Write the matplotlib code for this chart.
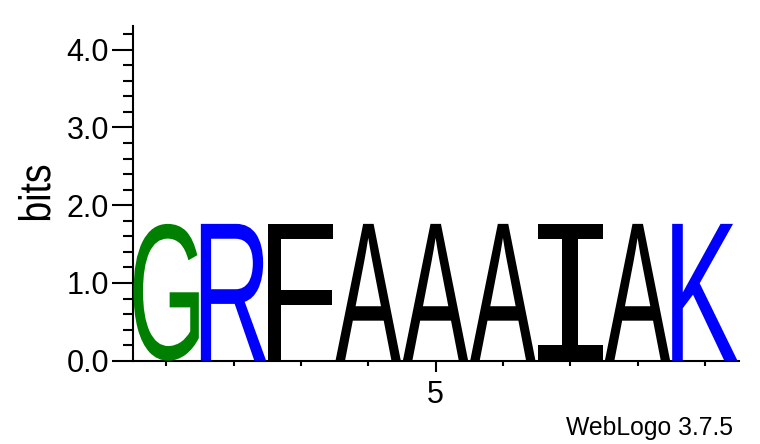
import matplotlib
matplotlib.use("Agg")
import matplotlib.pyplot as plt
from matplotlib.patheffects import AbstractPathEffect
from matplotlib.transforms import Affine2D
from matplotlib.ticker import MultipleLocator

# sequence logo: one residue per position, height in bits
residues = ["G", "R", "F", "A", "A", "A", "I", "A", "K"]
heights = [1.76, 1.76, 1.76, 1.76, 1.76, 1.76, 1.76, 1.76, 1.76]
positions = list(range(1, len(residues) + 1))
y_ticks = [0, 1, 2, 3, 4]
y_ticklabels = ["0.0", "1.0", "2.0", "3.0", "4.0"]
x_ticks = [5]
x_ticklabels = ["5"]

letter_colors = {"G": "#008000", "R": "#0000ff", "K": "#0000ff"}
letter_fonts = {"I": "DejaVu Sans Mono"}


class FitBox(AbstractPathEffect):
    # stretch the glyph so its ink fills a box given in data coordinates
    def __init__(self, ax, x0, x1, y0, y1):
        super().__init__()
        self.ax = ax
        self.box = [(x0, y0), (x1, y1)]

    def draw_path(self, renderer, gc, tpath, affine, rgbFace=None):
        ext = tpath.get_extents(affine)
        (X0, Y0), (X1, Y1) = self.ax.transData.transform(self.box)
        fit = (Affine2D().translate(-ext.x0, -ext.y0)
               .scale((X1 - X0) / ext.width, (Y1 - Y0) / ext.height)
               .translate(X0, Y0))
        renderer.draw_path(gc, tpath, affine + fit, rgbFace)


class Squeeze(AbstractPathEffect):
    # condensed look for the axis label
    def __init__(self, sx, sy):
        super().__init__()
        self.sx, self.sy = sx, sy

    def draw_path(self, renderer, gc, tpath, affine, rgbFace=None):
        ext = tpath.get_extents(affine)
        cx, cy = (ext.x0 + ext.x1) / 2, (ext.y0 + ext.y1) / 2
        t = Affine2D().translate(-cx, -cy).scale(self.sx, self.sy).translate(cx, cy)
        renderer.draw_path(gc, tpath, affine + t, rgbFace)


plt.rcParams['font.family'] = ['Liberation Sans', 'DejaVu Sans']

fig = plt.figure(figsize=(7.6, 4.44), dpi=100)
ax = fig.add_axes([132.5 / 760, 83.3 / 444, 606 / 760, 334.3 / 444])
ax.set_xlim(0.5, len(residues) + 0.5)
ax.set_ylim(0, 4.3)

for x, res, h in zip(positions, residues, heights):
    ax.text(x, h / 2, res, ha='center', va='center', fontsize=60,
            color=letter_colors.get(res, 'black'),
            family=letter_fonts.get(res, 'Liberation Sans'),
            path_effects=[FitBox(ax, x - 0.485, x + 0.485, 0, h)])

for s in ['top', 'right']:
    ax.spines[s].set_visible(False)
ax.spines['left'].set_linewidth(1.5)
ax.spines['bottom'].set_linewidth(1.5)

ax.set_yticks(y_ticks, y_ticklabels)
ax.yaxis.set_minor_locator(MultipleLocator(0.2))
ax.tick_params(axis='y', which='major', length=15, width=1.5, labelsize=22, pad=2)
ax.tick_params(axis='y', which='minor', length=7.5, width=1.5)

ax.set_xticks(x_ticks, x_ticklabels)
ax.set_xticks(positions, minor=True)
ax.tick_params(axis='x', which='major', length=8, width=1.5, labelsize=22, pad=6)
ax.tick_params(axis='x', which='minor', length=3.6, width=1.5)

ax.set_ylabel('bits', fontsize=32, path_effects=[Squeeze(1, 0.84)])
ax.yaxis.set_label_coords(-0.121, 0.5)

fig.text(733 / 760, 9 / 444, 'WebLogo 3.7.5', ha='right', va='baseline', fontsize=17.8)

fig.savefig('out.png', dpi=100)
